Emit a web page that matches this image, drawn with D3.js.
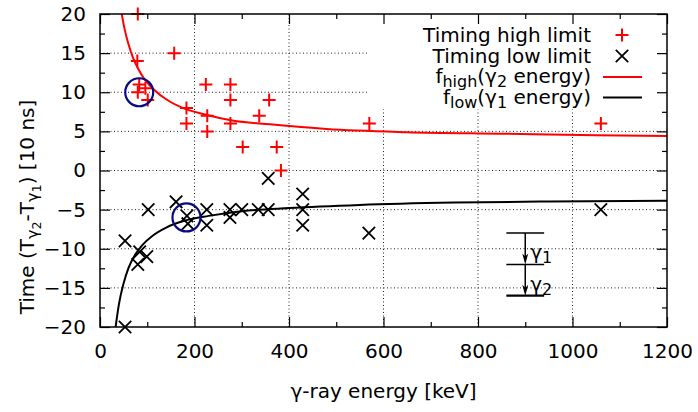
<!DOCTYPE html>
<html>
<head>
<meta charset="utf-8">
<script src="https://cdn.jsdelivr.net/npm/d3@7"></script>
<style>
  body { margin: 0; background: #fff; }
  text { font-family: "DejaVu Sans", sans-serif; fill: #000; }
</style>
</head>
<body>
<div id="chart-area"></div>
<script>
let width = 698,
    height = 412;

const margin = {top: 14, right: 31, bottom: 85, left: 100};

// measured timing limits: gamma energy [keV] vs time difference [10 ns]
const highEnergy = [80, 79, 83, 80, 96, 101, 157, 183, 183, 224, 227, 227, 276, 276, 276, 302, 337, 358, 374, 383, 570, 1060];
const highTime   = [20, 14, 11, 10, 10.5, 9, 15, 8, 6, 11, 7, 5, 11, 9, 6, 3, 7, 9, 3, 0, 6, 6];

const lowEnergy = [53, 53, 84, 80, 99, 102, 161, 184, 186, 226, 226, 275, 275, 300, 335, 356, 356, 429, 429, 429, 569, 1060];
const lowTime   = [-9, -20, -10.4, -12, -11, -5, -4, -5.8, -6.8, -5, -7, -5, -6, -5, -5, -5, -1, -3, -5, -7, -8, -5];

// fitted limit curves
const fHighEnergy = [46, 52, 60, 70, 80, 95, 115, 140, 175, 220, 280, 360, 480, 650, 850, 1050, 1200];
const fHighTime   = [20, 18.1, 16.2, 14.4, 13.1, 11.6, 10.3, 9.1, 8.0, 7.2, 6.4, 5.9, 5.3, 4.9, 4.7, 4.5, 4.4];

const fLowEnergy = [33, 40, 50, 60, 75, 90, 110, 140, 180, 230, 300, 400, 550, 750, 950, 1200];
const fLowTime   = [-20, -17.1, -14.4, -12.5, -10.7, -9.5, -8.4, -7.3, -6.4, -5.8, -5.2, -4.8, -4.4, -4.1, -3.95, -3.85];

// highlighted points
const markEnergy = [83, 183];
const markTime   = [10, -6];

// level scheme: three levels, gamma1 from top to middle, gamma2 from middle to bottom
const levelTime = [-8, -12, -16];
const levelEnergy = [860, 940];
const levelArrowEnergy = 900;

const xTicks = [0, 200, 400, 600, 800, 1000, 1200];
const yTicks = [-20, -15, -10, -5, 0, 5, 10, 15, 20];

const high = highEnergy.map((e, i) => ({e: e, t: highTime[i]}));
const low = lowEnergy.map((e, i) => ({e: e, t: lowTime[i]}));
const fHigh = fHighEnergy.map((e, i) => ({e: e, t: fHighTime[i]}));
const fLow = fLowEnergy.map((e, i) => ({e: e, t: fLowTime[i]}));
const marks = markEnergy.map((e, i) => ({e: e, t: markTime[i]}));

const fs = 20;

const svg = d3.select("#chart-area")
  .append("svg")
  .attr("width", width)
  .attr("height", height);

const x = d3.scaleLinear()
    .domain([0, 1200])
    .range([margin.left, width - margin.right]);
const y = d3.scaleLinear()
    .domain([-20, 20])
    .range([height - margin.bottom, margin.top]);

svg.append("defs").append("clipPath")
    .attr("id", "plot-clip")
  .append("rect")
    .attr("x", x(0)).attr("y", y(20))
    .attr("width", x(1200) - x(0)).attr("height", y(-20) - y(20));

// dotted grid
const grid = svg.append("g")
    .attr("stroke", "#222")
    .attr("stroke-width", 1)
    .attr("stroke-dasharray", "1,2.5");
grid.selectAll(".gx")
  .data(xTicks.slice(1, -1))
  .join("line")
    .attr("x1", d => x(d)).attr("x2", d => x(d))
    .attr("y1", y(-20)).attr("y2", y(20));
grid.selectAll(".gy")
  .data(yTicks.slice(1, -1))
  .join("line")
    .attr("x1", x(0)).attr("x2", x(1200))
    .attr("y1", d => y(d)).attr("y2", d => y(d));

// opaque key box hides the grid behind it
svg.append("rect")
    .attr("x", x(565)).attr("y", y(20))
    .attr("width", x(1200) - x(565))
    .attr("height", y(7.8) - y(20))
    .attr("fill", "#fff");

// level scheme
const scheme = svg.append("g");
const ax = x(levelArrowEnergy);

scheme.selectAll("line.level")
  .data(levelTime)
  .join("line")
    .attr("class", "level")
    .attr("x1", x(levelEnergy[0])).attr("x2", x(levelEnergy[1]))
    .attr("y1", d => y(d)).attr("y2", d => y(d))
    .attr("stroke", "#000")
    .attr("stroke-width", (d, i) => i === levelTime.length - 1 ? 2.2 : 1.5);

scheme.selectAll("line.gamma")
  .data(d3.pairs(levelTime))
  .join("line")
    .attr("class", "gamma")
    .attr("x1", ax).attr("x2", ax)
    .attr("y1", d => y(d[0])).attr("y2", d => y(d[1]) - 4)
    .attr("stroke", "#000")
    .attr("stroke-width", 1.5);

scheme.selectAll("path.head")
  .data(d3.pairs(levelTime))
  .join("path")
    .attr("class", "head")
    .attr("d", d => `M${ax - 3},${y(d[1]) - 11}L${ax},${y(d[1])}L${ax + 3},${y(d[1]) - 11}L${ax},${y(d[1]) - 8}Z`)
    .attr("fill", "#000");

scheme.selectAll("text")
  .data(d3.pairs(levelTime))
  .join("text")
    .attr("x", ax + 5)
    .attr("y", d => y(d[1]) - 5)
    .attr("font-size", fs)
    .each(function(d, i) {
      const t = d3.select(this);
      t.append("tspan").text("γ");
      t.append("tspan").attr("font-size", fs * 0.8).attr("dy", 4).text(i + 1);
    });

// fitted curves
const line = d3.line()
    .curve(d3.curveMonotoneX)
    .x(d => x(d.e))
    .y(d => y(d.t));

const curves = svg.append("g").attr("clip-path", "url(#plot-clip)");
curves.append("path")
    .datum(fHigh)
    .attr("fill", "none")
    .attr("stroke", "#ff0000")
    .attr("stroke-width", 2)
    .attr("d", line);
curves.append("path")
    .datum(fLow)
    .attr("fill", "none")
    .attr("stroke", "#000")
    .attr("stroke-width", 2)
    .attr("d", line);

// data points
const plus = "M-6.5,0H6.5M0,-6.5V6.5";
const cross = "M-6.2,-6.2L6.2,6.2M-6.2,6.2L6.2,-6.2";

svg.append("g")
  .selectAll("path")
  .data(high)
  .join("path")
    .attr("d", plus)
    .attr("transform", d => `translate(${x(d.e)},${y(d.t)})`)
    .attr("stroke", "#ff0000")
    .attr("stroke-width", 2);

svg.append("g")
  .selectAll("path")
  .data(low)
  .join("path")
    .attr("d", cross)
    .attr("transform", d => `translate(${x(d.e)},${y(d.t)})`)
    .attr("stroke", "#000")
    .attr("stroke-width", 1.8);

svg.append("g")
  .selectAll("circle")
  .data(marks)
  .join("circle")
    .attr("cx", d => x(d.e))
    .attr("cy", d => y(d.t))
    .attr("r", 14)
    .attr("fill", "none")
    .attr("stroke", "#0a0a80")
    .attr("stroke-width", 2.2);

// axes, ticks on all four sides pointing inward
const minorX = d3.range(100, 1200, 200);
const minorY = d3.range(-17.5, 20, 5);

function tidy(g) {
  g.select(".domain").remove();
  g.selectAll("line").attr("stroke", "#000").attr("stroke-width", 1.2);
  g.selectAll("text").attr("font-size", fs).attr("font-family", null).attr("fill", "#000");
}

svg.append("g")
    .attr("transform", `translate(0,${y(-20)})`)
    .call(d3.axisBottom(x).tickValues(xTicks).tickFormat(d3.format("d"))
      .tickSizeInner(-10).tickSizeOuter(0).tickPadding(17))
    .call(tidy);
svg.append("g")
    .attr("transform", `translate(0,${y(-20)})`)
    .call(d3.axisBottom(x).tickValues(minorX).tickSize(-5).tickFormat(""))
    .call(tidy);
svg.append("g")
    .attr("transform", `translate(0,${y(20)})`)
    .call(d3.axisTop(x).tickValues(xTicks).tickSize(-10).tickFormat(""))
    .call(tidy);
svg.append("g")
    .attr("transform", `translate(0,${y(20)})`)
    .call(d3.axisTop(x).tickValues(minorX).tickSize(-5).tickFormat(""))
    .call(tidy);

svg.append("g")
    .attr("transform", `translate(${x(0)},0)`)
    .call(d3.axisLeft(y).tickValues(yTicks).tickFormat(d3.format("d"))
      .tickSizeInner(-10).tickSizeOuter(0).tickPadding(14))
    .call(tidy);
svg.append("g")
    .attr("transform", `translate(${x(0)},0)`)
    .call(d3.axisLeft(y).tickValues(minorY).tickSize(-5).tickFormat(""))
    .call(tidy);
svg.append("g")
    .attr("transform", `translate(${x(1200)},0)`)
    .call(d3.axisRight(y).tickValues(yTicks).tickSize(-10).tickFormat(""))
    .call(tidy);
svg.append("g")
    .attr("transform", `translate(${x(1200)},0)`)
    .call(d3.axisRight(y).tickValues(minorY).tickSize(-5).tickFormat(""))
    .call(tidy);

// frame
svg.append("rect")
    .attr("x", x(0)).attr("y", y(20))
    .attr("width", x(1200) - x(0)).attr("height", y(-20) - y(20))
    .attr("fill", "none")
    .attr("stroke", "#000")
    .attr("stroke-width", 1.5);

// axis titles
svg.append("text")
    .attr("x", (x(0) + x(1200)) / 2)
    .attr("y", 398)
    .attr("text-anchor", "middle")
    .attr("font-size", fs)
    .text("γ-ray energy [keV]");

const yTitle = svg.append("text")
    .attr("transform", "translate(34,207) rotate(-90)")
    .attr("text-anchor", "middle")
    .attr("font-size", fs);
yTitle.append("tspan").text("Time (T");
yTitle.append("tspan").attr("font-size", fs * 0.8).attr("dy", 4).text("γ");
yTitle.append("tspan").attr("font-size", fs * 0.64).attr("dy", 3).text("2");
yTitle.append("tspan").attr("dy", -7).text("-T");
yTitle.append("tspan").attr("font-size", fs * 0.8).attr("dy", 4).text("γ");
yTitle.append("tspan").attr("font-size", fs * 0.64).attr("dy", 3).text("1");
yTitle.append("tspan").attr("dy", -7).text(") [10 ns]");

// key
const key = svg.append("g");
const keyTextX = 591, keySampleX = 622, rowY = [42, 62.5, 83, 103.5];

key.append("text").attr("x", keyTextX).attr("y", rowY[0]).attr("text-anchor", "end")
    .attr("font-size", fs).text("Timing high limit");
key.append("path").attr("d", plus).attr("transform", `translate(${keySampleX},${rowY[0] - 7})`)
    .attr("stroke", "#ff0000").attr("stroke-width", 2);

key.append("text").attr("x", keyTextX).attr("y", rowY[1]).attr("text-anchor", "end")
    .attr("font-size", fs).text("Timing low limit");
key.append("path").attr("d", cross).attr("transform", `translate(${keySampleX},${rowY[1] - 6.5})`)
    .attr("stroke", "#000").attr("stroke-width", 1.8);

function fLabel(row, sub, gammaIdx) {
  const t = key.append("text").attr("x", keyTextX).attr("y", rowY[row]).attr("text-anchor", "end")
      .attr("font-size", fs);
  t.append("tspan").text("f");
  t.append("tspan").attr("font-size", fs * 0.8).attr("dy", 4).text(sub);
  t.append("tspan").attr("dy", -4).text("(γ");
  t.append("tspan").attr("font-size", fs * 0.8).attr("dy", 4).text(gammaIdx);
  t.append("tspan").attr("dy", -4).text(" energy)");
}
fLabel(2, "high", 2);
key.append("line").attr("x1", 603).attr("x2", 642).attr("y1", rowY[2] - 6).attr("y2", rowY[2] - 6)
    .attr("stroke", "#ff0000").attr("stroke-width", 2);
fLabel(3, "low", 1);
key.append("line").attr("x1", 603).attr("x2", 642).attr("y1", rowY[3] - 6).attr("y2", rowY[3] - 6)
    .attr("stroke", "#000").attr("stroke-width", 2);
</script>
</body>
</html>
